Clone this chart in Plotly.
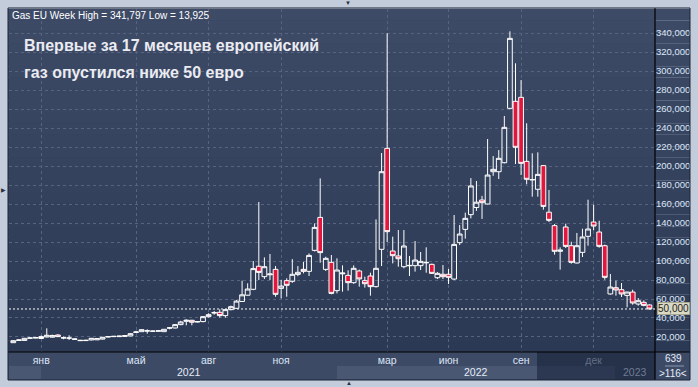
import plotly.graph_objects as go

# ---- data (weekly candles, Gas EU, EUR) ----
open_ = [14.0, 16.3, 16.4, 18.7, 19.0, 18.4, 20.0, 19.8, 22.1, 19.3,
         19.0, 18.0, 16.6, 16.2, 16.9, 17.0, 17.8, 20.0, 20.4, 20.4,
         20.6, 21.1, 24.8, 25.6, 26.3, 26.0, 26.1, 25.6, 29.3, 29.5,
         33.0, 36.5, 37.6, 35.8, 36.2, 41.4, 45.3, 46.0, 42.5, 48.8,
         50.2, 57.4, 64.0, 70.2, 94.5, 83.5, 85.5, 91.2, 71.2, 79.3,
         78.6, 85.9, 91.2, 89.1, 111.2, 145.9, 91.2, 98.6, 68.8, 86.5,
         84.9, 77.2, 89.5, 79.3, 84.2, 73.0, 112.3, 218.6, 110.5, 105.3,
         94.0, 95.4, 95.1, 95.1, 98.6, 96.5, 82.4, 86.0, 86.0, 81.0,
         119.3, 133.3, 148.8, 156.3, 164.2, 160.0, 194.0, 194.0, 203.5, 260.7,
         268.1, 272.3, 204.9, 185.3, 175.5, 200.4, 151.4, 137.2, 110.2, 135.8,
         116.1, 97.9, 109.1, 126.0, 141.0, 130.5, 116.1, 65.3, 71.9, 69.8,
         63.8, 67.3, 54.7, 56.5, 53.7]
high = [16.5, 17.6, 19.0, 19.5, 19.8, 21.6, 29.1, 22.4, 22.8, 20.4,
        21.8, 18.6, 16.9, 17.0, 19.0, 18.7, 20.0, 20.8, 21.0, 21.3,
        21.8, 23.8, 26.5, 28.0, 28.1, 26.8, 26.9, 28.4, 30.5, 33.5,
        37.0, 38.6, 38.0, 36.8, 42.0, 45.0, 47.4, 49.2, 49.0, 53.0,
        59.0, 79.3, 76.5, 100.0, 162.1, 103.8, 107.4, 94.7, 80.0, 81.8,
        102.0, 94.7, 99.0, 108.0, 139.6, 187.0, 104.5, 106.3, 102.8, 95.4,
        90.2, 95.4, 91.0, 83.5, 87.7, 143.8, 213.7, 339.8, 125.6, 132.6,
        132.6, 105.3, 121.0, 109.5, 114.4, 97.2, 88.4, 95.8, 91.6, 148.4,
        137.9, 150.9, 187.3, 184.2, 168.6, 228.4, 210.5, 216.8, 252.7, 341.797,
        308.1, 290.5, 245.0, 213.4, 214.4, 201.0, 174.8, 138.9, 114.4, 139.3,
        120.3, 129.5, 134.0, 164.5, 159.3, 142.4, 117.2, 86.3, 79.3, 76.8,
        67.6, 69.8, 61.0, 58.6, 54.4]
low = [13.925, 16.0, 16.1, 18.2, 18.7, 18.0, 19.6, 19.4, 19.9, 17.6,
       16.9, 17.2, 15.9, 15.9, 16.5, 16.8, 17.5, 19.6, 20.1, 20.1,
       20.2, 20.9, 24.3, 25.3, 23.5, 25.5, 25.7, 25.3, 28.1, 29.0,
       32.5, 32.3, 32.3, 35.3, 35.5, 40.5, 43.5, 40.4, 40.4, 48.0,
       49.8, 57.0, 63.5, 69.3, 80.0, 81.0, 80.0, 62.4, 60.7, 62.4,
       77.0, 84.0, 87.0, 84.2, 110.0, 98.2, 89.5, 64.9, 65.9, 67.7,
       68.8, 76.0, 73.0, 72.0, 63.5, 72.0, 94.7, 120.0, 97.5, 94.0,
       92.3, 84.2, 88.8, 90.5, 87.7, 86.3, 81.0, 81.0, 75.8, 80.0,
       116.8, 123.5, 144.9, 152.8, 144.3, 159.6, 189.7, 186.3, 202.8, 259.7,
       202.1, 190.5, 180.7, 167.7, 167.7, 154.0, 141.0, 106.7, 90.9, 113.7,
       97.2, 97.5, 104.2, 116.1, 132.3, 114.0, 80.3, 64.6, 63.5, 62.1,
       51.2, 54.0, 53.0, 52.3, 49.3]
close = [16.1, 16.9, 18.6, 19.0, 19.3, 20.4, 21.8, 21.6, 20.4, 19.0,
         18.8, 17.6, 16.2, 16.5, 18.6, 18.3, 19.7, 20.4, 20.7, 20.9,
         21.4, 23.5, 25.3, 27.7, 26.5, 26.2, 26.5, 28.1, 29.6, 33.0,
         35.8, 37.6, 35.5, 36.2, 41.4, 43.5, 45.6, 42.5, 48.8, 51.9,
         57.8, 64.4, 70.5, 92.0, 88.0, 94.0, 86.3, 64.9, 73.6, 74.4,
         86.0, 88.1, 89.1, 105.9, 135.4, 108.8, 102.8, 65.9, 90.5, 87.3,
         77.2, 92.3, 81.1, 76.1, 73.0, 92.3, 194.0, 130.9, 105.6, 102.4,
         115.8, 95.1, 101.0, 99.6, 98.2, 87.0, 87.0, 83.5, 82.8, 117.5,
         128.4, 144.9, 179.0, 161.9, 161.4, 190.5, 196.5, 208.1, 240.7, 334.4,
         219.7, 202.8, 186.0, 185.8, 191.2, 157.5, 142.8, 110.2, 111.5, 115.4,
         98.6, 116.1, 125.3, 133.7, 136.8, 115.4, 82.8, 72.6, 69.5, 65.3,
         67.3, 55.8, 58.2, 53.3, 49.5]
week_idx = list(range(len(close)))

month_labels = ['янв', 'май', 'авг', 'ноя', 'мар', 'июн', 'сен', 'дек']
month_idx = [5, 22, 35, 48, 67, 78, 91, 104]
year_labels = ['2021', '2022', '2023']
year_pos = [31.5, 83, 111.5]
y_ticks = list(range(20, 341, 20))
y_ticktext = [f"{v},000" for v in y_ticks]
title_lines = ['Впервые за 17 месяцев европейский', 'газ опустился ниже 50 евро']
bars_info = ['639', '>116<']

# ---- geometry helpers (pixels -> paper) ----
W, H = 698, 387
L, R, T, B = 9, 655, 9, 352


def px(x):
    return (x - L) / (R - L)


def py(y):
    return (B - y) / (B - T)


def fmt(v):
    return f"{v:.3f}".replace('.', ',')


shade_from = 94.0  # index where the dark strip starts

fig = go.Figure(go.Candlestick(
    x=week_idx, open=open_, high=high, low=low, close=close,
    increasing=dict(line=dict(color='#ffffff', width=1), fillcolor='rgba(0,0,0,0)'),
    decreasing=dict(line=dict(color='#ffffff', width=1), fillcolor='#e3173e'),
    whiskerwidth=0, showlegend=False, hoverinfo='skip'))

shapes = []
n = 30
top_c = (61, 75, 103)
bot_c = (44, 57, 84)
for k in range(n):
    t0 = k / n
    t1 = (k + 1) / n
    f = (k + 0.5) / n
    c = tuple(round(top_c[j] + (bot_c[j] - top_c[j]) * f) for j in range(3))
    shapes.append(dict(type='rect', xref='paper', yref='paper', x0=px(8), x1=px(690),
                       y0=1 - t1, y1=1 - t0, fillcolor=f'rgb{c}', line=dict(width=0), layer='below'))
# bottom band
shapes.append(dict(type='rect', xref='paper', yref='paper', x0=px(8), x1=px(690), y0=py(380), y1=py(352),
                   fillcolor='#3d4a66', line=dict(width=0), layer='below'))
shapes.append(dict(type='rect', xref='paper', yref='paper', x0=px(9), x1=px(41), y0=py(379), y1=py(366),
                   fillcolor='#4a5773', line=dict(width=0), layer='below'))
shapes.append(dict(type='rect', xref='paper', yref='paper', x0=px(337), x1=px(537), y0=py(379), y1=py(366),
                   fillcolor='#4a5773', line=dict(width=0), layer='below'))
shapes.append(dict(type='rect', xref='paper', yref='paper', x0=px(537), x1=px(655), y0=py(380), y1=py(352),
                   fillcolor='#26314a', line=dict(width=0), layer='below'))
shapes.append(dict(type='rect', xref='paper', yref='paper', x0=px(537), x1=px(615), y0=py(379), y1=py(366),
                   fillcolor='#2c3851', line=dict(width=0), layer='below'))
# borders
shapes.append(dict(type='line', xref='paper', yref='paper', x0=1, x1=1, y0=py(380), y1=py(8),
                   line=dict(color='#000000', width=1.2)))
shapes.append(dict(type='line', xref='paper', yref='paper', x0=px(8), x1=px(690), y0=0, y1=0,
                   line=dict(color='#000000', width=1.2)))
shapes.append(dict(type='rect', xref='paper', yref='paper', x0=px(8), x1=px(690), y0=py(380), y1=py(8),
                   line=dict(color='#1c2436', width=1)))
shapes.append(dict(type='line', xref='paper', yref='paper', x0=px(665), x1=px(684), y0=py(366), y1=py(366),
                   line=dict(color='#8a98b0', width=1)))
# current price dotted line
shapes.append(dict(type='line', xref='paper', yref='y', x0=0, x1=1, y0=close[-1], y1=close[-1],
                   line=dict(color='#ffffff', width=1, dash='2px,2px')))

ann = []
ann.append(dict(xref='paper', yref='paper', x=px(10), y=py(15), xanchor='left', yanchor='middle',
                text=f"Gas EU Week High = {fmt(max(high))} Low = {fmt(min(low))}", showarrow=False,
                font=dict(family='Liberation Sans', size=10, color='#ffffff')))
for line_txt, yy in zip(title_lines, [45, 72]):
    ann.append(dict(xref='paper', yref='paper', x=px(22), y=py(yy), xanchor='left', yanchor='middle',
                    text=f"<b>{line_txt}</b>", showarrow=False,
                    font=dict(family='Liberation Sans', size=16, color='#ebebf2')))
for lab, pos in zip(year_labels, year_pos):
    col = '#6f7d95' if pos > shade_from else '#e4ecf8'
    ann.append(dict(xref='x', yref='paper', x=pos, y=py(372), xanchor='center', yanchor='middle',
                    text=lab, showarrow=False, font=dict(family='Liberation Sans', size=10.5, color=col)))
for txt, yy in zip(bars_info, [358, 373]):
    ann.append(dict(xref='paper', yref='paper', x=px(673), y=py(yy), xanchor='center', yanchor='middle',
                    text=txt, showarrow=False, font=dict(family='Liberation Sans', size=10, color='#e4ecf8')))
# price label
ann.append(dict(xref='paper', yref='y', x=1, xshift=2, y=close[-1], xanchor='left', yanchor='middle',
                text=fmt(round(close[-1])), showarrow=False, bgcolor='#d9d9c4', bordercolor='#a4a48f',
                borderwidth=1, borderpad=0,
                font=dict(family='Liberation Sans', size=10, color='#1e1e1e')))
for txt, xx, yy in [('▼', 348, 3), ('▶', 3, 190), ('▲', 349, 383)]:
    ann.append(dict(xref='paper', yref='paper', x=px(xx), y=py(yy), xanchor='center', yanchor='middle',
                    text=txt, showarrow=False, font=dict(size=6, color='#2a2f3a')))

ticktext = [(f'<span style="color:#626f86">{m}</span>' if i > shade_from else m)
            for m, i in zip(month_labels, month_idx)]

fig.update_layout(
    width=W, height=H, margin=dict(l=L, r=W - R, t=T, b=H - B),
    paper_bgcolor='#c3ccda', plot_bgcolor='#35425e',
    boxgap=0.15, boxgroupgap=0.0,
    shapes=shapes, annotations=ann,
    xaxis=dict(range=[-0.77, 115.0], tickvals=month_idx, ticktext=ticktext,
               showgrid=True, gridcolor='#56647f', griddash='3px,3px', gridwidth=1,
               showline=False, ticks='', zeroline=False, rangeslider=dict(visible=False),
               ticklabelstandoff=0,
               tickfont=dict(family='Liberation Sans', size=10.5, color='#dbe5f5')),
    yaxis=dict(side='right', range=[4.2, 365.3], tickvals=y_ticks, ticktext=y_ticktext,
               showgrid=True, gridcolor='#56647f', griddash='3px,3px', gridwidth=1,
               showline=False, ticks='', zeroline=False,
               tickfont=dict(family='Liberation Sans', size=9.5, color='#dce6f8')),
)

fig.write_html("out.html", config={'displayModeBar': False},
               post_script="document.body.style.margin='0';document.body.style.padding='0';")
